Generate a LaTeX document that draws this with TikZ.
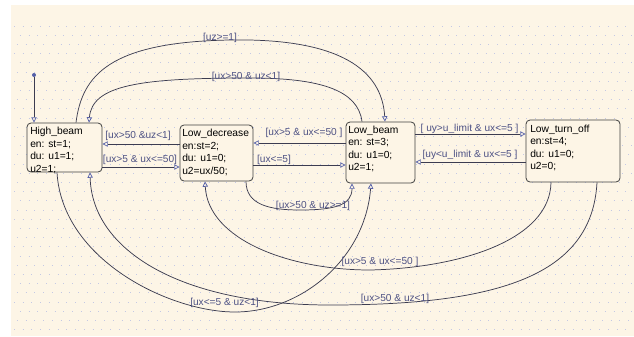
\documentclass[tikz,border=0pt]{standalone}
\usepackage{fontspec}
\setmainfont{Liberation Sans}
\usetikzlibrary{arrows.meta,fit}
\definecolor{cream}{HTML}{FDF5E6}
\definecolor{linec}{HTML}{3C3C50}
\definecolor{tipc}{HTML}{5560A8}
\definecolor{lblc}{HTML}{4E5284}
\definecolor{dotc}{HTML}{C4C8E4}
\definecolor{boxc}{HTML}{404040}
\tikzset{
  statebox/.style={draw=boxc, line width=0.6pt, rounded corners=3pt, fill=cream, inner sep=0pt},
  stxt/.style={anchor=north west, inner sep=0pt, align=left, font=\fontsize{7.7pt}{9.375pt}\selectfont, text=black},
  lbl/.style={inner sep=0pt, font=\fontsize{7.6pt}{9pt}\selectfont, text=lblc},
  tr/.style={draw=linec, line width=0.55pt, -{Triangle[open, length=4pt, width=4pt, color=tipc]}},
  initdot/.style={circle, fill=tipc, inner sep=0pt, minimum size=3pt}
}
\begin{document}
\begin{tikzpicture}[x=0.75pt, y=-0.75pt]
\useasboundingbox (0,0) rectangle (634,336);
\fill[white] (0,0) rectangle (634,336);
\fill[cream] (11,5) rectangle (634,336);
% faint background dots
\foreach \r in {0,...,33} {
  \draw[dotc, line width=0.55pt, dash pattern=on 0.55pt off 6pt, dash phase={mod(\r,3)*2.2pt}] (14,{26+9.2*\r}) -- (632,{26+9.2*\r});
}
% states
\node[statebox, fit={(27,123) (102,172)}] (hb) {};
\node[statebox, fit={(180,125) (253,181)}] (ld) {};
\node[statebox, fit={(346,122) (415,183)}] (lb) {};
\node[statebox, fit={(526,120) (620,182)}] (lto) {};
\node[stxt] (hbt) at (30,127) {High\_beam\\en: st=1;\\du: u1=1;\\u2=1;};
\node[stxt] (ldt) at (182,129) {Low\_decrease\\en:st=2;\\du: u1=0;\\u2=ux/50;};
\node[stxt] (lbt) at (348,125.5) {Low\_beam\\en: st=3;\\du: u1=0;\\u2=1;};
\node[stxt] (ltot) at (530,124.5) {Low\_turn\_off\\en:st=4;\\du: u1=0;\\u2=0;};
% default transition
\node[initdot] (init) at (34,75) {};
\draw[tr] (init) -- (hb.north -| 34,0);
% straight transitions
\draw[tr] (ld.west |- 0,144) -- (hb.east |- 0,144);
\draw[tr] (hb.east |- 0,167) -- (ld.west |- 0,167);
\draw[tr] (lb.west |- 0,143) -- (ld.east |- 0,143);
\draw[tr] (ld.east |- 0,165) -- (lb.west |- 0,165);
\draw[tr] (lb.east |- 0,134) -- (lto.west |- 0,134);
\draw[tr] (lto.west |- 0,162) -- (lb.east |- 0,162);
% curved transitions
\draw[tr] (hb.north -| 76,0) .. controls (82,75) and (110,42) .. (230,40) .. controls (340,38) and (382,70) .. (lb.north -| 385,0);
\draw[tr] (lb.north -| 362,0) .. controls (358,90) and (320,78) .. (250,78) .. controls (140,78) and (92,85) .. (hb.north -| 89,0);
\draw[tr] (ld.south -| 246,0) .. controls (246,205) and (270,210) .. (300,210) .. controls (335,210) and (352,205) .. (lb.south -| 352,0);
\draw[tr] (lto.south -| 551,0) .. controls (550,240) and (460,268) .. (370,270) .. controls (290,270) and (208,240) .. (ld.south -| 205,0);
\draw[tr] (lto.south -| 597,0) .. controls (592,275) and (500,305) .. (330,305) .. controls (180,305) and (92,250) .. (hb.south -| 90,0);
\draw[tr] (hb.south -| 57,0) .. controls (62,260) and (170,312) .. (235,312) .. controls (300,312) and (365,260) .. (lb.south -| 371,0);
% labels
\node[lbl] (l1) at (220,37.5) {[uz>=1]};
\node[lbl] (l2) at (246,77) {[ux>50 \& uz<1]};
\node[lbl] (l3) at (138,136) {[ux>50 \&uz<1]};
\node[lbl] (l4) at (140,160) {[ux>5 \& ux<=50]};
\node[lbl] (l5) at (304,133) {[ux>5 \& ux<=50 ]};
\node[lbl] (l6) at (274,160) {[ux<=5]};
\node[lbl] (l7) at (469.5,129) {[ uy>u\_limit \& ux<=5 ]};
\node[lbl] (l8) at (470,155) {[uy<u\_limit \& ux<=5 ]};
\node[lbl] (l9) at (313,206) {[ux>50 \& uz>=1]};
\node[lbl] (l10) at (380,262) {[ux>5 \& ux<=50 ]};
\node[lbl] (l11) at (395,299) {[ux>50 \& uz<1]};
\node[lbl] (l12) at (224.5,303) {[ux<=5 \& uz<1]};
\end{tikzpicture}
\end{document}
